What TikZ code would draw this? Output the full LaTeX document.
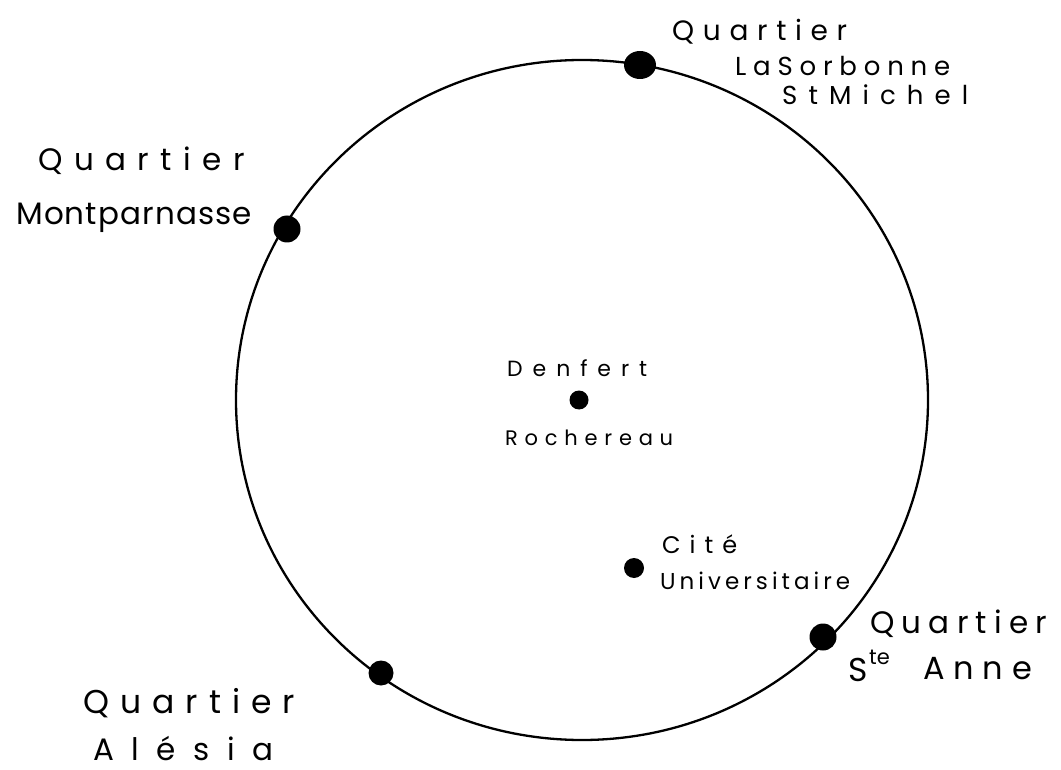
\documentclass[tikz,border=0pt]{standalone}
\usepackage{fontspec}
\usetikzlibrary{shapes.geometric}
\setmainfont{Poppins}
\newcommand\hw[4]{%
  \setbox0=\hbox{\fontsize{#1}{#1}\selectfont #4}%
  \pgfmathsetmacro\lsp{((#2)-\the\wd0)/((#3)-1)/(#1)*100}%
  \begingroup\fontsize{#1}{#1}\selectfont
  \edef\hwx{\noexpand\addfontfeatures{LetterSpace=\lsp}}\hwx #4\endgroup}
\tikzset{
  dot/.style={circle, fill=black, inner sep=0pt},
  lbl/.style={anchor=base west, inner sep=0pt, text=black},
  ring/.style={line width=2.3pt, black}
}
\begin{document}
\begin{tikzpicture}[x=1pt,y=-1pt]
\useasboundingbox (0,0) rectangle (1061,770);
\fill[white] (0,0) rectangle (1061,770);
\draw[ring] (582,400) ellipse [x radius=346pt, y radius=340pt];
% dots
\node[dot, ellipse, minimum width=32pt, minimum height=28pt] (sorbonne) at (640,65) {};
\node[dot, minimum size=27pt] (montparnasse) at (287,229) {};
\node[dot, minimum size=19pt] (denfert) at (579,400) {};
\node[dot, minimum size=20pt] (cite) at (634,568) {};
\node[dot, minimum size=27pt] (steanne) at (823,637) {};
\node[dot, minimum size=25pt] (alesia) at (381,673) {};
% labels
\node[lbl] (sorbA) at (672,41) {\hw{28}{175}{8}{Quartier}};
\node[lbl] (sorbB) at (735,76) {\hw{26}{215}{10}{LaSorbonne}};
\node[lbl] (sorbC) at (782,105) {\hw{26}{186}{8}{StMichel}};
\node[lbl] (montA) at (38,171) {\hw{31}{207}{8}{Quartier}};
\node[lbl] (montB) at (16,225) {\hw{31}{236}{12}{Montparnasse}};
\node[lbl] (denA) at (507,376) {\hw{22}{140}{7}{Denfert}};
\node[lbl] (denB) at (505,445) {\hw{21}{168}{9}{Rochereau}};
\node[lbl] (citeA) at (662,553) {\hw{24}{75}{4}{Cité}};
\node[lbl] (citeB) at (660,589) {\hw{23}{190}{13}{Universitaire}};
\node[lbl] (anneA) at (870,633) {\hw{31}{177}{8}{Quartier}};
\node[lbl] (anneS) at (848,681) {\fontsize{33}{33}\selectfont S};
\node[lbl] (anneT) at (869,664) {\fontsize{21}{21}\selectfont te};
\node[lbl] (anneB) at (923,679) {\hw{32}{109}{4}{Anne}};
\node[lbl] (alesA) at (83,713) {\hw{33}{212}{8}{Quartier}};
\node[lbl] (alesB) at (93,760) {\hw{31}{180}{6}{Alésia}};
\end{tikzpicture}
\end{document}
